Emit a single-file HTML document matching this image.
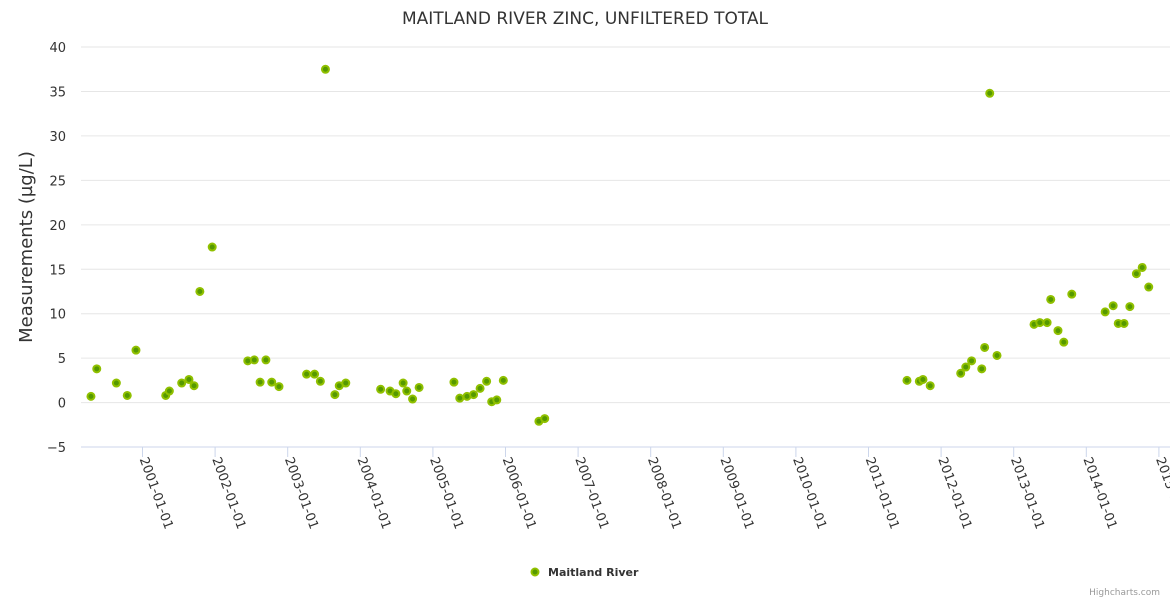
<!DOCTYPE html>
<html><head><meta charset="utf-8"><style>
body{margin:0;background:#fff;font-family:"DejaVu Sans",sans-serif;}
svg text{font-family:"DejaVu Sans","Liberation Sans",sans-serif;}
</style></head><body>
<svg id="chart" width="1170" height="600" xmlns="http://www.w3.org/2000/svg">
<text x="585" y="24" text-anchor="middle" font-size="17" fill="#333">MAITLAND RIVER ZINC, UNFILTERED TOTAL</text>
<text transform="translate(32,247) rotate(-90)" text-anchor="middle" font-size="18" fill="#333">Measurements (µg/L)</text>
<g id="grid"></g><g id="xaxis"></g><g id="points"></g>
<g>
<circle cx="535" cy="572" r="3.5" fill="#559900" stroke="#90c000" stroke-width="2"/>
<text x="548" y="576" font-size="11" font-weight="bold" fill="#333">Maitland River</text>
</g>
<text x="1160" y="595" text-anchor="end" font-size="9" fill="#999">Highcharts.com</text>
</svg>
<script>
const yTicks=[-5,0,5,10,15,20,25,30,35,40];
const xTickYears=[2001,2002,2003,2004,2005,2006,2007,2008,2009,2010,2011,2012,2013,2014,2015];
const dates=[2000.29,2000.37,2000.64,2000.79,2000.91,2001.32,2001.37,2001.54,2001.64,2001.71,2001.79,2001.96,2002.45,2002.54,2002.62,2002.70,2002.78,2002.88,2003.26,2003.37,2003.45,2003.52,2003.65,2003.71,2003.80,2004.28,2004.41,2004.49,2004.59,2004.64,2004.72,2004.81,2005.29,2005.37,2005.47,2005.56,2005.65,2005.74,2005.81,2005.88,2005.97,2006.46,2006.54,2011.53,2011.70,2011.75,2011.85,2012.27,2012.34,2012.42,2012.56,2012.60,2012.67,2012.77,2013.28,2013.36,2013.46,2013.51,2013.61,2013.69,2013.80,2014.26,2014.37,2014.44,2014.52,2014.60,2014.69,2014.77,2014.86];
const values=[0.7,3.8,2.2,0.8,5.9,0.8,1.3,2.2,2.6,1.9,12.5,17.5,4.7,4.8,2.3,4.8,2.3,1.8,3.2,3.2,2.4,37.5,0.9,1.9,2.2,1.5,1.3,1.0,2.2,1.3,0.4,1.7,2.3,0.5,0.7,0.9,1.6,2.4,0.1,0.3,2.5,-2.1,-1.8,2.5,2.4,2.6,1.9,3.3,4.0,4.7,3.8,6.2,34.8,5.3,8.8,9.0,9.0,11.6,8.1,6.8,12.2,10.2,10.9,8.9,8.9,10.8,14.5,15.2,13.0];
const NS='http://www.w3.org/2000/svg';
const X0=81,X1=1170;
function xs(y){return 142.5+(y-2001)*72.6;}
function ys(v){return 402.6-v*8.889;}
function mk(t,a,p){const e=document.createElementNS(NS,t);for(const k in a)e.setAttribute(k,a[k]);p.appendChild(e);return e;}
const grid=document.getElementById('grid');
yTicks.forEach(v=>{
 const l=mk('line',{x1:X0,x2:X1,y1:ys(v),y2:ys(v),stroke:v===-5?'#ccd6eb':'#e6e6e6','stroke-width':1},grid);
 
 
 const t=mk('text',{x:66,y:ys(v)+5,'text-anchor':'end','font-size':13,fill:'#333'},grid);
 t.textContent=v<0?'−'+Math.abs(v):String(v);
 
 
});
const xa=document.getElementById('xaxis');
xTickYears.forEach(yr=>{
 const x=xs(yr);
 const tk=mk('line',{x1:x,x2:x,y1:447,y2:457,stroke:'#ccd6eb'},xa);
 
 
 const t=mk('text',{transform:`translate(${x-3},${459}) rotate(70)`,'font-size':13,fill:'#333'},xa);
 t.textContent=yr+'-01-01';
 
 
});
const pts=document.getElementById('points');
dates.forEach((d,i)=>{
 const c=mk('circle',{cx:xs(d),cy:ys(values[i]),r:3.5,fill:'#559900',stroke:'#90c000','stroke-width':2},pts);
 
 
});
</script>
</body></html>
